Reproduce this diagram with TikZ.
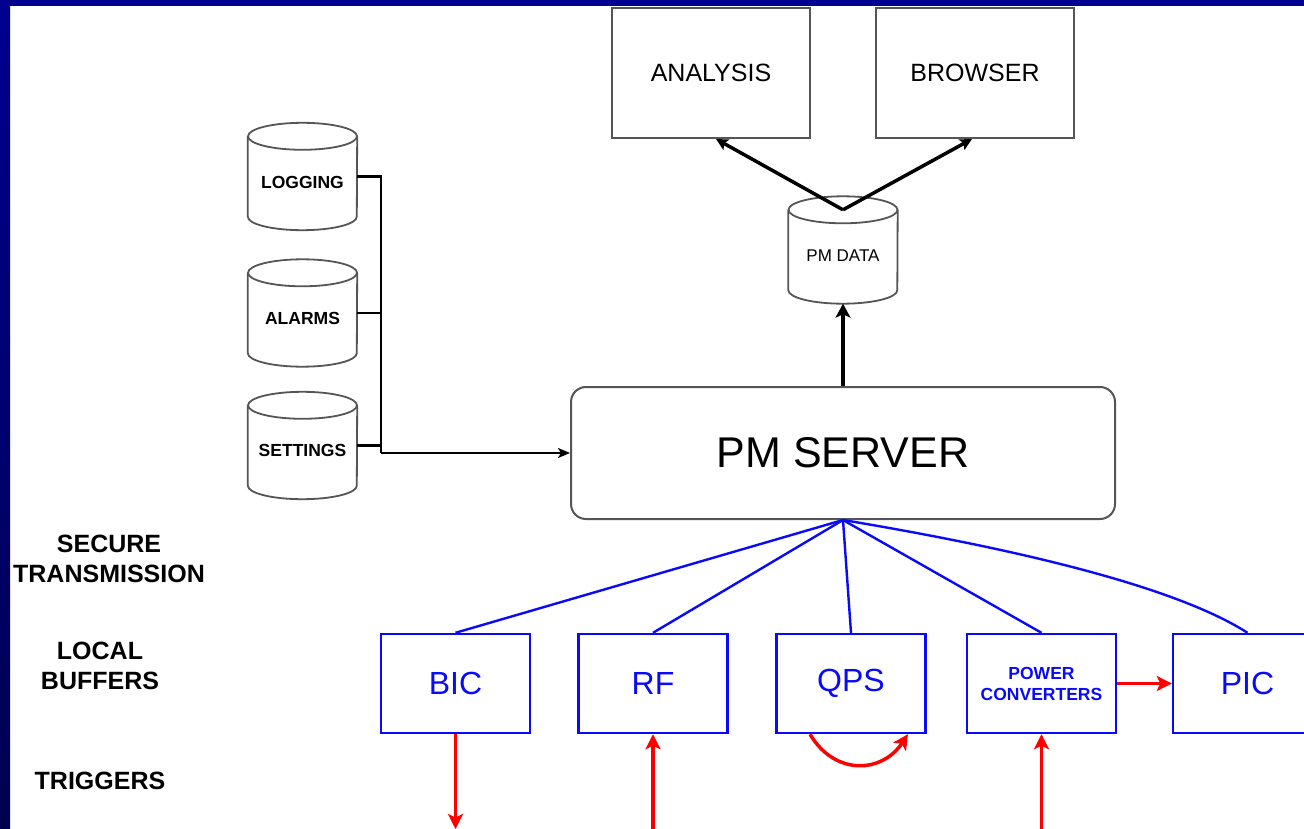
\documentclass[tikz,border=0pt]{standalone}
\usepackage{fontspec}
\setmainfont{Liberation Sans}
\usetikzlibrary{arrows.meta,calc}
\definecolor{frameblue}{RGB}{0,0,145}
\definecolor{framedark}{RGB}{0,0,80}
\definecolor{lineblue}{RGB}{10,10,250}
\definecolor{outline}{RGB}{85,85,85}
\tikzset{
  cylnode/.style={minimum width=109pt, minimum height=107pt, inner sep=0pt},
  cylline/.style={draw=outline, line width=1.8pt},
  cyltext/.style={font=\bfseries\fontsize{17.5}{20}\selectfont},
  pmtext/.style={font=\fontsize{17}{20}\selectfont},
  graybox/.style={draw=outline, line width=2pt, minimum width=198pt, minimum height=130pt, inner sep=0pt, font=\fontsize{25}{30}\selectfont},
  serverbox/.style={draw=outline, line width=2pt, rounded corners=15pt, minimum width=544pt, minimum height=132pt, inner sep=0pt, font=\fontsize{43}{50}\selectfont},
  bluebox/.style={draw=lineblue, line width=2.4pt, minimum width=149pt, minimum height=99pt, inner sep=0pt, text=lineblue, font=\fontsize{32}{38}\selectfont},
  smallblue/.style={bluebox, align=center, font=\bfseries\fontsize{17.5}{21}\selectfont},
  sidelabel/.style={font=\bfseries\fontsize{25}{30}\selectfont, align=center},
  busline/.style={draw=black, line width=2.2pt},
  busarrow/.style={busline, -{Stealth[length=12pt,width=10pt,inset=3pt]}},
  blackarrow/.style={draw=black, line width=3.5pt, -{Stealth[length=12pt,width=12pt,inset=3pt]}},
  bigarrow/.style={draw=black, line width=4pt, -{Stealth[length=14pt,width=15pt,inset=3.5pt]}},
  redarrow/.style={draw=red, line width=3.5pt, -{Stealth[length=15pt,width=15pt,inset=3.5pt]}},
  blueline/.style={draw=lineblue, line width=2.4pt},
}
\newcommand\drawcyl[1]{%
  \draw[cylline] ([yshift=-13.5pt]#1.north west) -- ([yshift=13.5pt]#1.south west)
    arc[start angle=180, end angle=360, x radius=54.5pt, y radius=13.5pt]
    -- ([yshift=-13.5pt]#1.north east);
  \draw[cylline] ([yshift=-13.5pt]#1.north) ellipse[x radius=54.5pt, y radius=13.5pt];}
\begin{document}
\begin{tikzpicture}[x=1pt, y=-1pt]
\useasboundingbox (0,0) rectangle (1304,829);
\clip (0,0) rectangle (1304,829);
\fill[white] (0,0) rectangle (1304,829);
\shade[top color=frameblue, bottom color=framedark] (0,0) rectangle (10,829);
\fill[frameblue] (0,0) rectangle (1304,6);

% side labels
\node[sidelabel] (lsec) at (109,559) {SECURE\\TRANSMISSION};
\node[sidelabel] (lloc) at (100,666) {LOCAL\\BUFFERS};
\node[sidelabel] (ltrig) at (100,781) {TRIGGERS};

% databases
\node[cylnode, label={[cyltext, yshift=-5.5pt]center:LOGGING}] (log) at (302.5,176.5) {};
\node[cylnode, label={[cyltext, yshift=-5pt]center:ALARMS}] (alm) at (302.5,313) {};
\node[cylnode, label={[cyltext, yshift=-4.5pt]center:SETTINGS}] (sett) at (302.5,445.5) {};
\node[cylnode, label={[pmtext, yshift=-6pt]center:PM DATA}] (pmd) at (843,250) {};
\drawcyl{log}
\drawcyl{alm}
\drawcyl{sett}
\drawcyl{pmd}

% boxes
\node[graybox] (ana) at (711,73) {ANALYSIS};
\node[graybox] (bro) at (975,73) {BROWSER};
\node[serverbox] (srv) at (843,453) {PM SERVER};

\node[bluebox] (bic) at (455.5,683.5) {BIC};
\node[bluebox] (rf) at (653,683.5) {RF};
\node[bluebox] (qps) at (851,683.5) {QPS};
\node[smallblue] (pc) at (1041.5,683.5) {POWER\\CONVERTERS};
\node[bluebox] (pic) at (1247.5,683.5) {PIC};

% black connectors
\coordinate (bus) at (381,453);
\draw[busline] (log.east) -| (bus);
\draw[busline] (alm.east) -- (alm.east -| bus);
\draw[busline] (sett.east) -- (sett.east -| bus);
\draw[busarrow] (bus) -- (srv.west);
\draw[bigarrow] (srv.north) -- (pmd.south);
\coordinate (pmv) at ([yshift=-13.5pt]pmd.north);
\draw[blackarrow] (pmv) -- ([xshift=5pt]ana.south);
\draw[blackarrow] (pmv) -- ([xshift=-3pt]bro.south);

% blue connectors
\draw[blueline] (srv.south) -- (bic.north);
\draw[blueline] (srv.south) -- (rf.north);
\draw[blueline] (srv.south) -- (qps.north);
\draw[blueline] (srv.south) -- (pc.north);
\draw[blueline] (srv.south) .. controls ($(srv.south)+(180,30)$) and ($(pic.north)+(-70,-45)$) .. (pic.north);

% red triggers
\coordinate (bicout) at (455.5,829);
\coordinate (rfin) at (653,829);
\coordinate (pcin) at (1041.5,829);
\draw[redarrow] (bic.south) -- (bicout);
\draw[redarrow] (rfin) -- (rf.south);
\draw[redarrow] (pcin) -- (pc.south);
\draw[redarrow] (pc.east) -- (pic.west);
\draw[redarrow] ([xshift=-41pt]qps.south) .. controls ($(qps.south)+(-16,42)$) and ($(qps.south)+(31,39)$) .. ([xshift=57pt]qps.south);
\end{tikzpicture}
\end{document}
